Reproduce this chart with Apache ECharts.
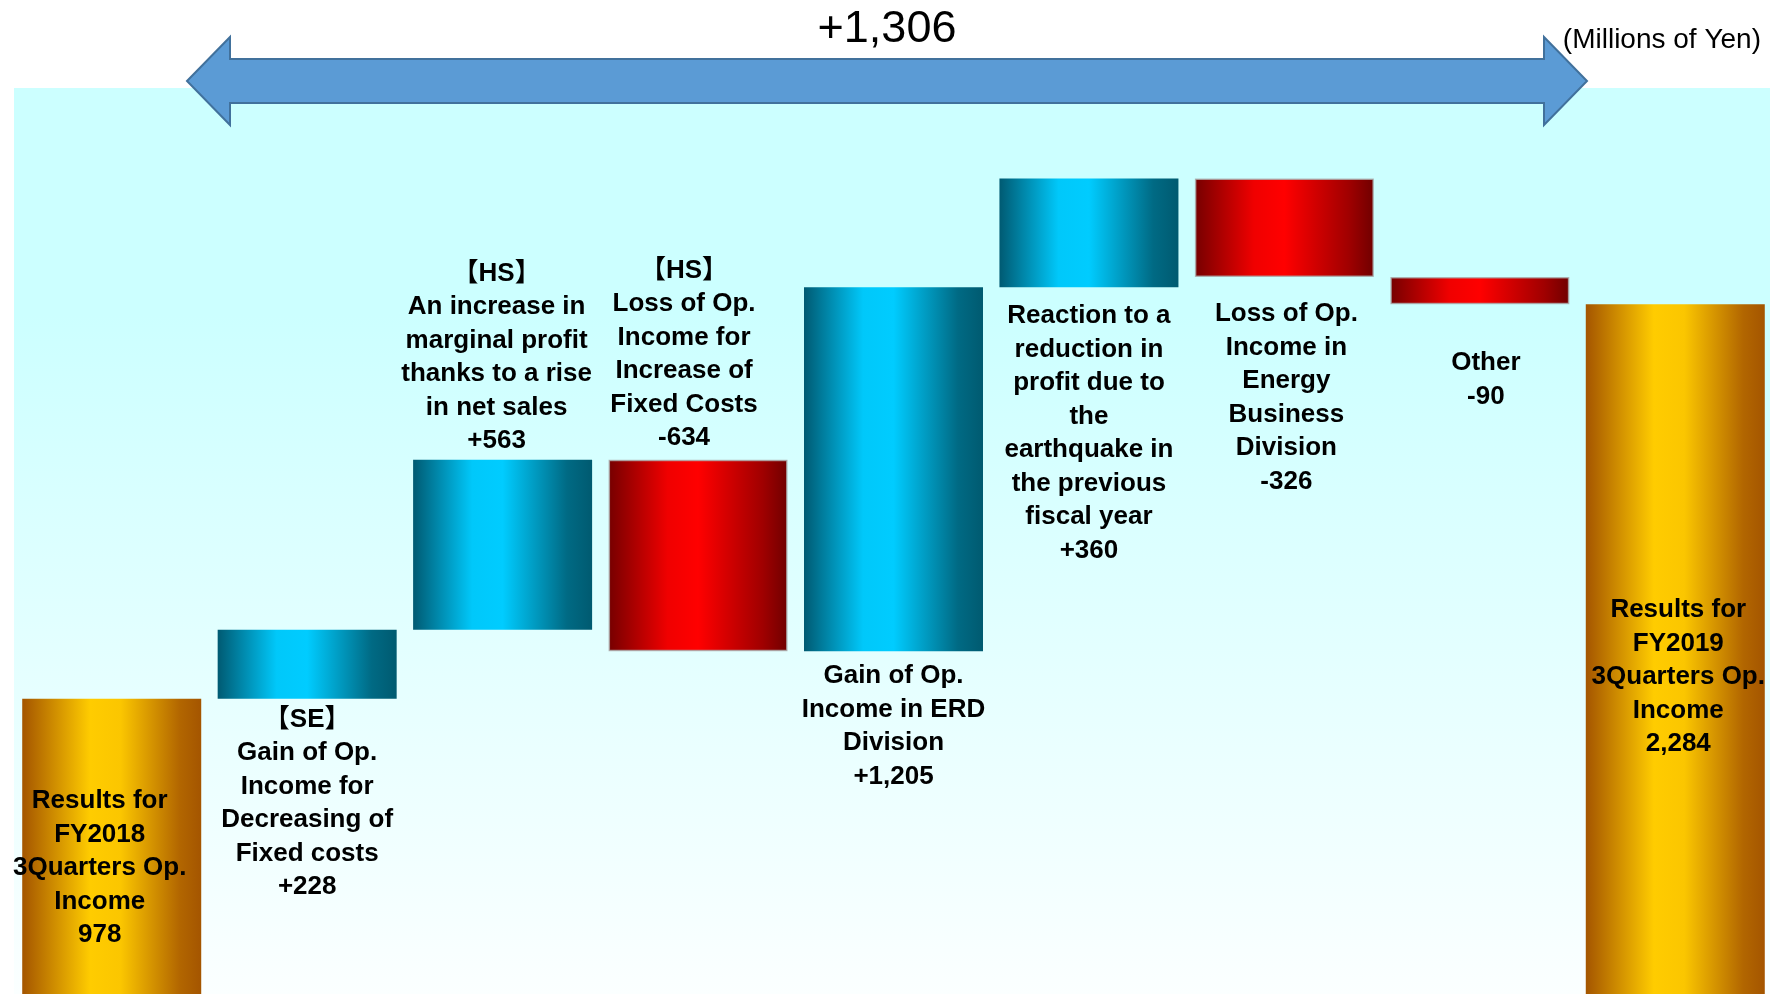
<!doctype html>
<html lang="en">
<head>
<meta charset="utf-8" />
<title>Operating income bridge FY2018 to FY2019 (3 quarters)</title>
<script src="https://cdn.jsdelivr.net/npm/echarts@6/dist/echarts.min.js"></script>
<style>
    html, body { margin: 0; padding: 0; background: #fff; }
    #chart { width: 1779px; height: 994px; }
</style>
</head>
<body>
<div id="chart"></div>
<script type="text/javascript">
    // bar captions, left to right
    let categories = [
        'Results for\nFY2018\n3Quarters Op.\nIncome',
        '【SE】\nGain of Op.\nIncome for\nDecreasing of\nFixed costs',
        '【HS】\nAn increase in\nmarginal profit\nthanks to a rise\nin net sales',
        '【HS】\nLoss of Op.\nIncome for\nIncrease of\nFixed Costs',
        'Gain of Op.\nIncome in ERD\nDivision',
        'Reaction to a\nreduction in\nprofit due to\nthe\nearthquake in\nthe previous\nfiscal year',
        'Loss of Op.\nIncome in\nEnergy\nBusiness\nDivision',
        'Other',
        'Results for\nFY2019\n3Quarters Op.\nIncome'
    ];
    let startValue = 978;
    let changes = [228, 563, -634, 1205, 360, -326, -90];
    let endValue = 2284;

    let fmt = v => Math.abs(v).toLocaleString('en-US');

    // waterfall: invisible base + visible part
    let values = [startValue].concat(changes, [endValue]);
    let base = [], shown = [], kinds = [];
    let running = 0;
    values.forEach(function (v, i) {
        if (i == 0 || i == values.length - 1) {
            base.push(0);
            shown.push(v);
            kinds.push('total');
            running = v;
        } else {
            let next = running + v;
            base.push(Math.min(running, next));
            shown.push(Math.abs(v));
            kinds.push(v >= 0 ? 'up' : 'down');
            running = next;
        }
    });

    let hgrad = function (stops) {
        return {
            type: 'linear', x: 0, y: 0, x2: 1, y2: 0,
            colorStops: stops.map(s => ({ offset: s[0], color: s[1] }))
        };
    };
    let fills = {
        total: hgrad([[0, '#A45500'], [0.38, '#FFCC00'], [0.55, '#FBC600'], [0.88, '#B26600'], [1, '#A45500']]),
        up: hgrad([[0, '#005A72'], [0.33, '#00C8FA'], [0.5, '#00CCFF'], [0.86, '#006A84'], [1, '#005A70']]),
        down: hgrad([[0, '#760000'], [0.33, '#F00000'], [0.5, '#FF0000'], [0.86, '#A00000'], [1, '#700000']])
    };

    let labelLayout = [
        { position: 'inside', offset: [-12, 22] },
        { position: 'bottom', distance: 0, offset: [0, 4] },
        { position: 'top', distance: 6, offset: [-6, 4] },
        { position: 'top', distance: 9, offset: [-14, 4] },
        { position: 'bottom', distance: 2, offset: [0, 6] },
        { position: 'bottom', distance: 6, offset: [0, 6] },
        { position: 'bottom', distance: 16, offset: [2, 4.5] },
        { position: 'bottom', distance: 38, offset: [6, 4] },
        { position: 'inside', offset: [3, 28] }
    ];

    let barData = shown.map(function (v, i) {
        let kind = kinds[i];
        let sign = kind == 'total' ? '' : (values[i] >= 0 ? '+' : '-');
        return {
            value: v,
            itemStyle: kind == 'down'
                ? { color: fills.down, borderColor: 'rgba(170,170,170,0.8)', borderWidth: 1.5 }
                : { color: fills[kind] },
            label: Object.assign({
                show: true,
                formatter: categories[i] + '\n' + sign + fmt(values[i])
            }, labelLayout[i])
        };
    });

    let panelFill = {
        type: 'linear', x: 0, y: 0, x2: 0, y2: 1,
        colorStops: [
            { offset: 0, color: '#CCFFFF' },
            { offset: 0.25, color: '#CCFFFF' },
            { offset: 1, color: '#FBFFFF' }
        ]
    };

    let option = {
        animation: false,
        backgroundColor: '#ffffff',
        grid: { left: 14, top: 88, width: 1759, height: 908 },
        xAxis: { type: 'category', data: categories, show: false },
        yAxis: { type: 'value', min: 0, max: 3000, show: false, splitLine: { show: false } },
        graphic: [
            {
                type: 'rect', z: -10, silent: true,
                shape: { x: 14, y: 88, width: 1756, height: 906 },
                style: { fill: panelFill }
            },
            {
                type: 'polygon', z: 10, silent: true,
                shape: {
                    points: [[187, 81], [230, 37], [230, 59], [1544, 59], [1544, 37], [1587, 81],
                             [1544, 125], [1544, 103], [230, 103], [230, 125]]
                },
                style: { fill: '#5B9BD5', stroke: '#41719C', lineWidth: 2 }
            },
            {
                type: 'text', z: 10, x: 887, y: 30, silent: true,
                style: {
                    text: (endValue - startValue >= 0 ? '+' : '-') + fmt(endValue - startValue),
                    font: '45px "Liberation Sans", Arial, sans-serif',
                    fill: '#000', align: 'center', verticalAlign: 'middle'
                }
            },
            {
                type: 'text', z: 10, x: 1761, y: 40, silent: true,
                style: {
                    text: '(Millions of Yen)',
                    font: '28px "Liberation Sans", Arial, sans-serif',
                    fill: '#000', align: 'right', verticalAlign: 'middle'
                }
            }
        ],
        series: [
            {
                name: 'base', type: 'bar', stack: 'w', silent: true,
                barWidth: 179,
                itemStyle: { color: 'transparent' },
                data: base
            },
            {
                name: 'value', type: 'bar', stack: 'w',
                barWidth: 179,
                label: {
                    color: '#000',
                    fontSize: 26,
                    fontWeight: 'bold',
                    lineHeight: 33.5,
                    fontFamily: '"Liberation Sans", Arial, "Noto Sans CJK JP", sans-serif',
                    align: 'center'
                },
                data: barData
            }
        ]
    };

    let myChart = echarts.init(document.getElementById('chart'));
    myChart.setOption(option);
</script>
</body>
</html>
